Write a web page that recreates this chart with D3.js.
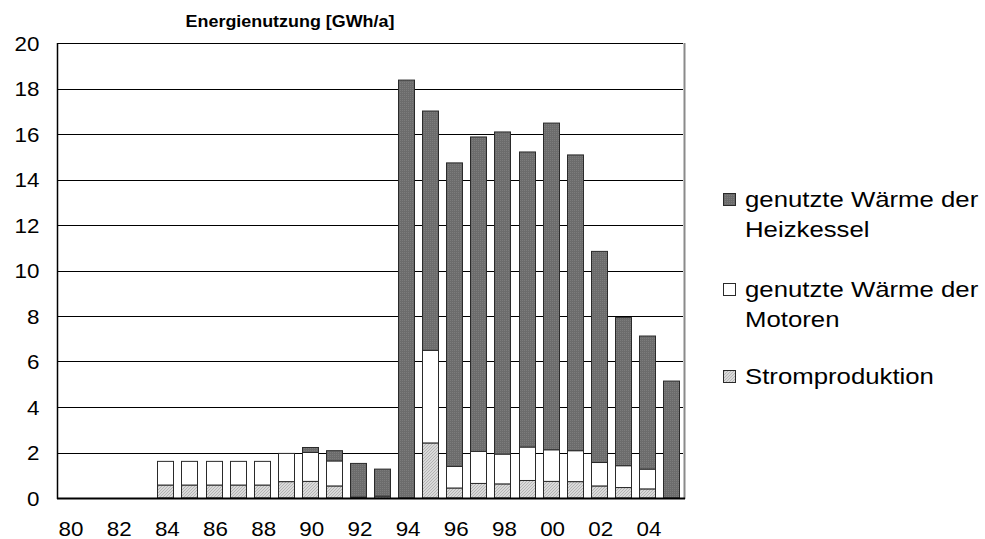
<!DOCTYPE html>
<html>
<head>
<meta charset="utf-8">
<style>
  body { margin: 0; background: #fff; }
  svg { display: block; font-family: "Liberation Sans", Arial, sans-serif; }
</style>
</head>
<body>
<svg width="985" height="539"></svg>
<script src="https://d3js.org/d3.v7.min.js"></script>
<script>
// data (GWh/a)
var years = ["80","81","82","83","84","85","86","87","88","89","90","91","92",
             "93","94","95","96","97","98","99","00","01","02","03","04","05"];
var strom = [0,0,0,0,0.57,0.57,0.57,0.57,0.57,0.72,0.73,0.53,0.04,0.08,0,2.42,
             0.44,0.64,0.62,0.77,0.73,0.72,0.53,0.46,0.40,0];
var motoren = [0,0,0,0,1.04,1.04,1.04,1.04,1.04,1.24,1.27,1.10,0,0,0,4.07,
               0.95,1.41,1.31,1.47,1.39,1.36,1.03,0.96,0.87,0];
var kessel = [0,0,0,0,0,0,0,0,0,0,0.22,0.45,1.48,1.19,18.37,10.52,
              13.34,13.82,14.16,12.97,14.36,13.00,9.28,6.51,5.85,5.14];
var xTickLabels = ["80","82","84","86","88","90","92","94","96","98","00","02","04"];
var yTicks = [0,2,4,6,8,10,12,14,16,18,20];

var keys = ["strom","motoren","kessel"];
var legendLines = {
  kessel: ["genutzte Wärme der","Heizkessel"],
  motoren: ["genutzte Wärme der","Motoren"],
  strom: ["Stromproduktion"]
};

(function() {
  var table = years.map(function(y, i) {
    return {year: y, strom: strom[i], motoren: motoren[i], kessel: kessel[i]};
  });

  var svg = d3.select("svg");
  var pLeft = 57, pRight = 683, pTop = 43, pBottom = 498;
  var sx = 1.12; // picture is a bit wider than the font

  // fill textures
  var defs = svg.append("defs");
  var pd = defs.append("pattern").attr("id","pDark").attr("patternUnits","userSpaceOnUse")
    .attr("width",2).attr("height",2);
  pd.append("rect").attr("width",2).attr("height",2).attr("fill","#6c6c6c");
  pd.append("rect").attr("width",1).attr("height",1).attr("fill","#7c7c7c");
  var pl = defs.append("pattern").attr("id","pLight").attr("patternUnits","userSpaceOnUse")
    .attr("width",3).attr("height",3);
  pl.append("rect").attr("width",3).attr("height",3).attr("fill","#dadada");
  pl.append("path").attr("d","M0,3L3,0").attr("stroke","#b4b4b4").attr("stroke-width",1);

  var fills = {strom: "url(#pLight)", motoren: "#ffffff", kessel: "url(#pDark)"};

  var x = d3.scaleBand()
    .domain(years)
    .range([pLeft, pRight])
    .paddingInner(0.34)
    .paddingOuter(0.17);

  var y = d3.scaleLinear()
    .domain([0, 20])
    .range([pBottom, pTop]);

  // grid lines
  svg.append("g").selectAll("line")
    .data(yTicks.filter(function(d) { return d > 0; }))
    .enter().append("line")
      .attr("x1", pLeft).attr("x2", pRight)
      .attr("y1", function(d) { return Math.round(y(d)) + 0.5; })
      .attr("y2", function(d) { return Math.round(y(d)) + 0.5; })
      .attr("stroke", "#000").attr("stroke-width", 1);

  // right border
  svg.append("line")
    .attr("x1", pRight + 1.5).attr("x2", pRight + 1.5)
    .attr("y1", pTop).attr("y2", pBottom + 1)
    .attr("stroke", "#8a8a8a").attr("stroke-width", 2);

  // stacked bars
  var stacked = d3.stack().keys(keys)(table);
  svg.append("g")
    .selectAll("g")
    .data(stacked)
    .enter().append("g")
      .attr("fill", function(d) { return fills[d.key]; })
    .selectAll("rect")
    .data(function(d) { return d.filter(function(p) { return p[1] - p[0] > 0; }); })
    .enter().append("rect")
      .attr("x", function(d) { return Math.round(x(d.data.year)) + 0.5; })
      .attr("y", function(d) { return y(d[1]); })
      .attr("width", Math.round(x.bandwidth()))
      .attr("height", function(d) { return y(d[0]) - y(d[1]); })
      .attr("stroke", "#2a2a2a")
      .attr("stroke-width", 1);

  // axes
  var yAxis = svg.append("g")
    .attr("transform", "translate(" + (pLeft + 0.5) + ",0)")
    .call(d3.axisLeft(y).tickValues(yTicks).tickSize(0).tickPadding(0));
  yAxis.select(".domain").remove();
  yAxis.append("line").attr("x1",0).attr("x2",0).attr("y1",pTop).attr("y2",pBottom + 1)
    .attr("stroke","#000").attr("stroke-width",1.5);
  yAxis.selectAll(".tick text")
    .attr("font-size", 20).attr("fill", "#000")
    .attr("x", 0).attr("dy", "0.35em")
    .attr("transform", "translate(-18,0) scale(" + sx + ",1)");
  yAxis.attr("font-family", null);

  var xAxis = svg.append("g")
    .attr("transform", "translate(0," + (pBottom + 0.5) + ")")
    .call(d3.axisBottom(x)
      .tickValues(xTickLabels)
      .tickSize(0).tickPadding(0));
  xAxis.select(".domain").remove();
  xAxis.append("line").attr("x1",pLeft).attr("x2",pRight + 2).attr("y1",0).attr("y2",0)
    .attr("stroke","#000").attr("stroke-width",2);
  xAxis.selectAll(".tick text")
    .attr("font-size", 20).attr("fill", "#000")
    .attr("y", 0).attr("dy", null)
    .attr("transform", "translate(2,37) scale(" + sx + ",1)");
  xAxis.attr("font-family", null);

  // title
  svg.append("text")
    .attr("transform", "translate(290,27) scale(" + sx + ",1)")
    .attr("text-anchor", "middle")
    .attr("font-size", 16)
    .attr("font-weight", "bold")
    .text("Energienutzung [GWh/a]");

  // legend
  var legendY = {kessel: 193, motoren: 283, strom: 370};
  var legend = svg.append("g")
    .selectAll("g")
    .data(["kessel","motoren","strom"])
    .enter().append("g")
      .attr("transform", function(d) { return "translate(723," + legendY[d] + ")"; });

  legend.append("rect")
    .attr("x", 0.5).attr("y", 0.5)
    .attr("width", 12).attr("height", 12)
    .attr("fill", function(d) { return fills[d]; })
    .attr("stroke", "#2a2a2a");

  legend.each(function(d) {
    var g = d3.select(this);
    legendLines[d].forEach(function(line, i) {
      g.append("text")
        .attr("transform", "translate(22," + (14 + i * 30) + ") scale(" + sx + ",1)")
        .attr("font-size", 23)
        .attr("fill", "#000")
        .text(line);
    });
  });
})();
</script>
</body>
</html>
